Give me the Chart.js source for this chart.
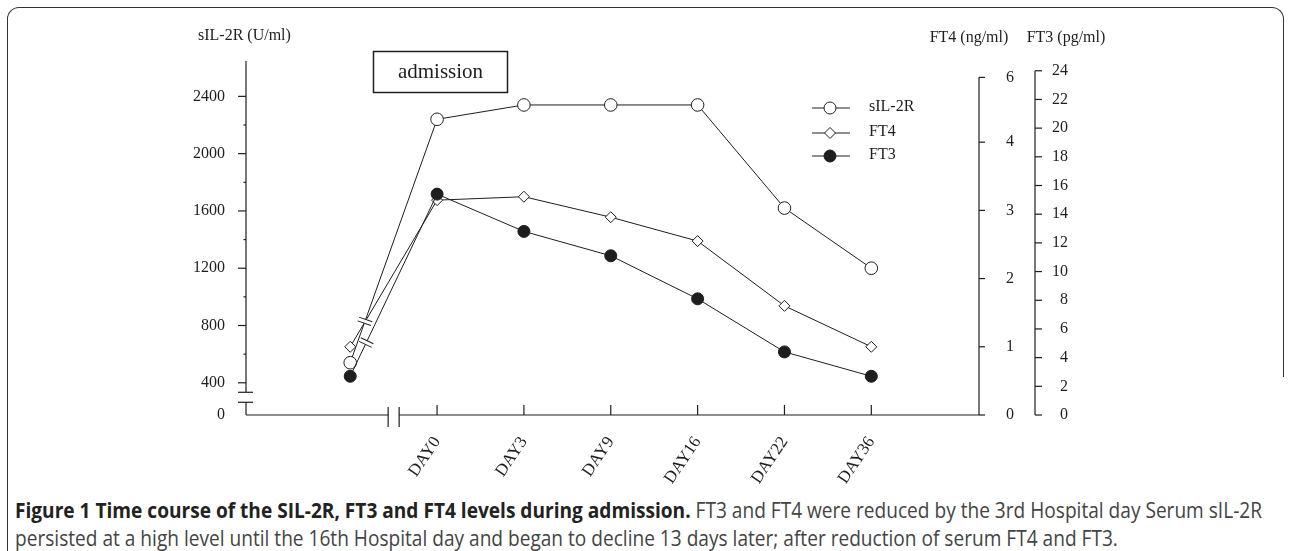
<!DOCTYPE html>
<html>
<head>
<meta charset="utf-8">
<script src="https://cdn.jsdelivr.net/npm/chart.js@4.4.1/dist/chart.umd.min.js"></script>
<style>
  html, body { margin: 0; padding: 0; background: #fff; }
  body { width: 1290px; height: 551px; position: relative; overflow: hidden; }
  #frame { position: absolute; left: 7px; top: 7px; width: 1277px; height: 370px;
           border: 1.4px solid #333; border-bottom: none; border-radius: 12px 12px 0 0; box-sizing: border-box; }
  #frameLeft { position: absolute; left: 7px; top: 370px; width: 0; height: 200px; border-left: 1.4px solid #333; }
  #chart { position: absolute; left: 0; top: 0; }
  #caption { position: absolute; left: 15px; top: 496px; font-family: 'Open Sans', sans-serif; font-size: 21px;
             line-height: 28px; color: #444; white-space: nowrap; transform-origin: 0 0; }
  #caption b { color: #222; }
</style>
</head>
<body>
<div id="frame"></div>
<div id="frameLeft"></div>
<canvas id="chart" width="1290" height="490"></canvas>
<div id="caption"><span id="line1"><b>Figure 1 Time course of the SIL-2R, FT3 and FT4 levels during admission.</b> FT3 and FT4 were reduced by the 3rd Hospital day Serum sIL-2R</span><br>persisted at a high level until the 16th Hospital day and began to decline 13 days later; after reduction of serum FT4 and FT3.</div>
<script>
// first slot is the sample taken before admission (no tick label)
const LABELS = ['', 'DAY0', 'DAY3', 'DAY9', 'DAY16', 'DAY22', 'DAY36'];
const SIL2R = [540, 2240, 2340, 2340, 2340, 1620, 1200];
const FT4 = [1.0, 3.15, 3.2, 2.9, 2.55, 1.6, 1.0];
const FT3 = [2.7, 15.4, 12.8, 11.1, 8.1, 4.4, 2.7];

const SIL2R_TICKS = [400, 800, 1200, 1600, 2000, 2400];
const FT4_TICKS = ['0', '1', '2', '3', '4', '6'];
const FT3_TICKS = [0, 2, 4, 6, 8, 10, 12, 14, 16, 18, 20, 22, 24];

const SERIF = "'Liberation Serif', 'DejaVu Serif', serif";
const INK = '#1e1e1e';
const FT4_TOP = 4.95; // the "6" mark sits just above 4 on the original axis

function xy(arr) {
  return arr.map((v, i) => ({x: i, y: v}));
}

const decor = {
  id: 'decor',
  beforeDatasetsDraw(chart) {
    const {ctx, chartArea: a, scales} = chart;
    const yl = scales.yL, y4 = scales.yFT4, y3 = scales.yFT3, x = scales.x;
    const line = (x1, y1, x2, y2) => { ctx.beginPath(); ctx.moveTo(x1, y1); ctx.lineTo(x2, y2); ctx.stroke(); };
    ctx.save();
    ctx.strokeStyle = INK;
    ctx.lineWidth = 1.2;

    // left axis, broken just below 400
    const b1 = yl.getPixelForValue(400) + 9.5, b2 = b1 + 10;
    line(a.left, a.top, a.left, b1);
    line(a.left - 8, b1, a.left + 7, b1);
    line(a.left - 8, b2, a.left + 7, b2);
    line(a.left, b2, a.bottom > b2 ? a.left : a.left, a.bottom);
    SIL2R_TICKS.forEach((v, i) => {
      const p = yl.getPixelForValue(v);
      line(a.left - 8, p, a.left, p);
      if (i < SIL2R_TICKS.length - 1) {
        const m = yl.getPixelForValue(v + 200);
        line(a.left - 2.5, m, a.left, m);
      }
    });

    // bottom axis with a break before DAY0
    const xb = x.getPixelForValue(0.5);
    line(a.left, a.bottom, xb - 5.5, a.bottom);
    line(xb + 5.5, a.bottom, a.right, a.bottom);
    line(xb - 5.5, a.bottom - 8, xb - 5.5, a.bottom + 12);
    line(xb + 5.5, a.bottom - 8, xb + 5.5, a.bottom + 12);
    LABELS.forEach((l, i) => {
      if (!l) return;
      const p = x.getPixelForValue(i);
      line(p, a.bottom - 10, p, a.bottom);
    });

    // FT4 axis
    line(a.right, y4.getPixelForValue(FT4_TOP), a.right, a.bottom);
    y4.ticks.forEach(t => {
      const p = y4.getPixelForValue(t.value);
      line(a.right, p, a.right + 6, p);
    });

    // FT3 axis
    const x3 = y3.left;
    line(x3, y3.getPixelForValue(24), x3, y3.getPixelForValue(0));
    FT3_TICKS.forEach(v => {
      const p = y3.getPixelForValue(v);
      line(x3, p, x3 + 7, p);
    });
    ctx.restore();
  },
  afterDatasetsDraw(chart) {
    const {ctx} = chart;
    // break marks on the segment from the pre-admission sample to DAY0
    [[0, 0.17], [2, 0.185]].forEach(([di, t]) => {
      const pts = chart.getDatasetMeta(di).data;
      const p0 = pts[0], p1 = pts[1];
      const cx = p0.x + (p1.x - p0.x) * t, cy = p0.y + (p1.y - p0.y) * t;
      ctx.save();
      ctx.translate(cx, cy);
      ctx.rotate(Math.atan2(p1.y - p0.y, p1.x - p0.x));
      ctx.fillStyle = '#fff';
      ctx.fillRect(-2, -7, 4, 14);
      ctx.strokeStyle = INK;
      ctx.lineWidth = 1;
      ctx.beginPath();
      ctx.moveTo(-2, -7); ctx.lineTo(-2, 7);
      ctx.moveTo(2, -7); ctx.lineTo(2, 7);
      ctx.stroke();
      ctx.restore();
    });
  },
  afterDraw(chart) {
    const {ctx, chartArea: a, scales} = chart;
    ctx.save();
    ctx.fillStyle = INK;
    ctx.strokeStyle = INK;
    ctx.textBaseline = 'middle';

    // axis titles
    ctx.font = '16px ' + SERIF;
    ctx.textAlign = 'left';
    ctx.fillText('sIL-2R (U/ml)', a.left - 48, a.top - 25);
    ctx.textAlign = 'center';
    ctx.fillText('FT4 (ng/ml)', a.right - 10, a.top - 23);
    ctx.fillText('FT3 (pg/ml)', scales.yFT3.left + 31, a.top - 23);

    // "admission" box
    ctx.lineWidth = 1.5;
    ctx.strokeRect(373.5, 51.5, 134, 41);
    ctx.font = '21px ' + SERIF;
    ctx.fillText('admission', 440.5, 72);

    // legend
    const items = [
      {label: 'sIL-2R', y: 108, shape: 'circle', fill: '#fff'},
      {label: 'FT4', y: 133, shape: 'diamond', fill: '#fff'},
      {label: 'FT3', y: 156, shape: 'circle', fill: INK}
    ];
    const lx = 830;
    ctx.font = '16px ' + SERIF;
    ctx.textAlign = 'left';
    items.forEach(it => {
      ctx.lineWidth = 1;
      ctx.beginPath();
      ctx.moveTo(lx - 18, it.y); ctx.lineTo(lx + 20, it.y);
      ctx.stroke();
      ctx.beginPath();
      if (it.shape === 'circle') {
        ctx.arc(lx, it.y, 6, 0, Math.PI * 2);
      } else {
        ctx.moveTo(lx - 5.5, it.y); ctx.lineTo(lx, it.y - 5.5);
        ctx.lineTo(lx + 5.5, it.y); ctx.lineTo(lx, it.y + 5.5);
        ctx.closePath();
      }
      ctx.fillStyle = it.fill;
      ctx.fill();
      ctx.stroke();
      ctx.fillStyle = INK;
      ctx.fillText(it.label, 869, it.y - 1);
    });
    ctx.restore();
  }
};

const tickFont = {family: SERIF, size: 16};

new Chart(document.getElementById('chart'), {
  type: 'line',
  data: {
    datasets: [
      {
        label: 'sIL-2R', data: xy(SIL2R), yAxisID: 'yL', order: 2,
        borderColor: INK, borderWidth: 1,
        pointStyle: 'circle', pointRadius: 6.3, pointBackgroundColor: '#fff', pointBorderColor: INK, pointBorderWidth: 1
      },
      {
        label: 'FT4', data: xy(FT4), yAxisID: 'yFT4', order: 1,
        borderColor: INK, borderWidth: 1,
        pointStyle: 'rectRot', pointRadius: 5.5, pointBackgroundColor: '#fff', pointBorderColor: INK, pointBorderWidth: 1
      },
      {
        label: 'FT3', data: xy(FT3), yAxisID: 'yFT3', order: 0,
        borderColor: INK, borderWidth: 1,
        pointStyle: 'circle', pointRadius: 6, pointBackgroundColor: INK, pointBorderColor: INK, pointBorderWidth: 1
      }
    ]
  },
  options: {
    responsive: false,
    animation: false,
    layout: {padding: {left: 186, right: 222, top: 61, bottom: 5}},
    plugins: {legend: {display: false}, tooltip: {enabled: false}},
    scales: {
      x: {
        type: 'linear', min: -1.2, max: 7.24,
        grid: {display: false}, border: {display: false},
        afterBuildTicks: s => { s.ticks = LABELS.map((l, i) => ({value: i})).filter(t => LABELS[t.value]); },
        afterFit: s => { s.height = 70; },
        ticks: {
          autoSkip: false, minRotation: 56, maxRotation: 56, padding: 10,
          font: {family: SERIF, size: 17}, color: INK,
          callback: v => LABELS[v]
        }
      },
      yL: {
        position: 'left', min: 175, max: 2647,
        grid: {display: false}, border: {display: false},
        afterBuildTicks: s => { s.ticks = [{value: 175}].concat(SIL2R_TICKS.map(v => ({value: v}))); },
        afterFit: s => { s.width = 60; },
        ticks: {padding: 13, font: tickFont, color: INK, callback: v => v < 400 ? '0' : String(v)}
      },
      yFT4: {
        position: 'right', min: 0, max: 5.19, weight: 0,
        grid: {display: false}, border: {display: false},
        afterBuildTicks: s => { s.ticks = [0, 1, 2, 3, 4, FT4_TOP].map(v => ({value: v})); },
        afterFit: s => { s.width = 56; },
        ticks: {padding: 19, font: tickFont, color: INK, callback: (v, i) => FT4_TICKS[i]}
      },
      yFT3: {
        position: 'right', min: 0, max: 24.68, weight: 1,
        grid: {display: false}, border: {display: false},
        afterBuildTicks: s => { s.ticks = FT3_TICKS.map(v => ({value: v})); },
        afterFit: s => { s.width = 33; },
        ticks: {crossAlign: 'far', font: tickFont, color: INK}
      }
    }
  },
  plugins: [decor]
});

// squeeze the caption so its first line spans the same width as the original
document.fonts.ready.then(() => {
  const w = document.getElementById('line1').getBoundingClientRect().width;
  document.getElementById('caption').style.transform = 'scaleX(' + (1247 / w) + ')';
});
</script>
</body>
</html>
